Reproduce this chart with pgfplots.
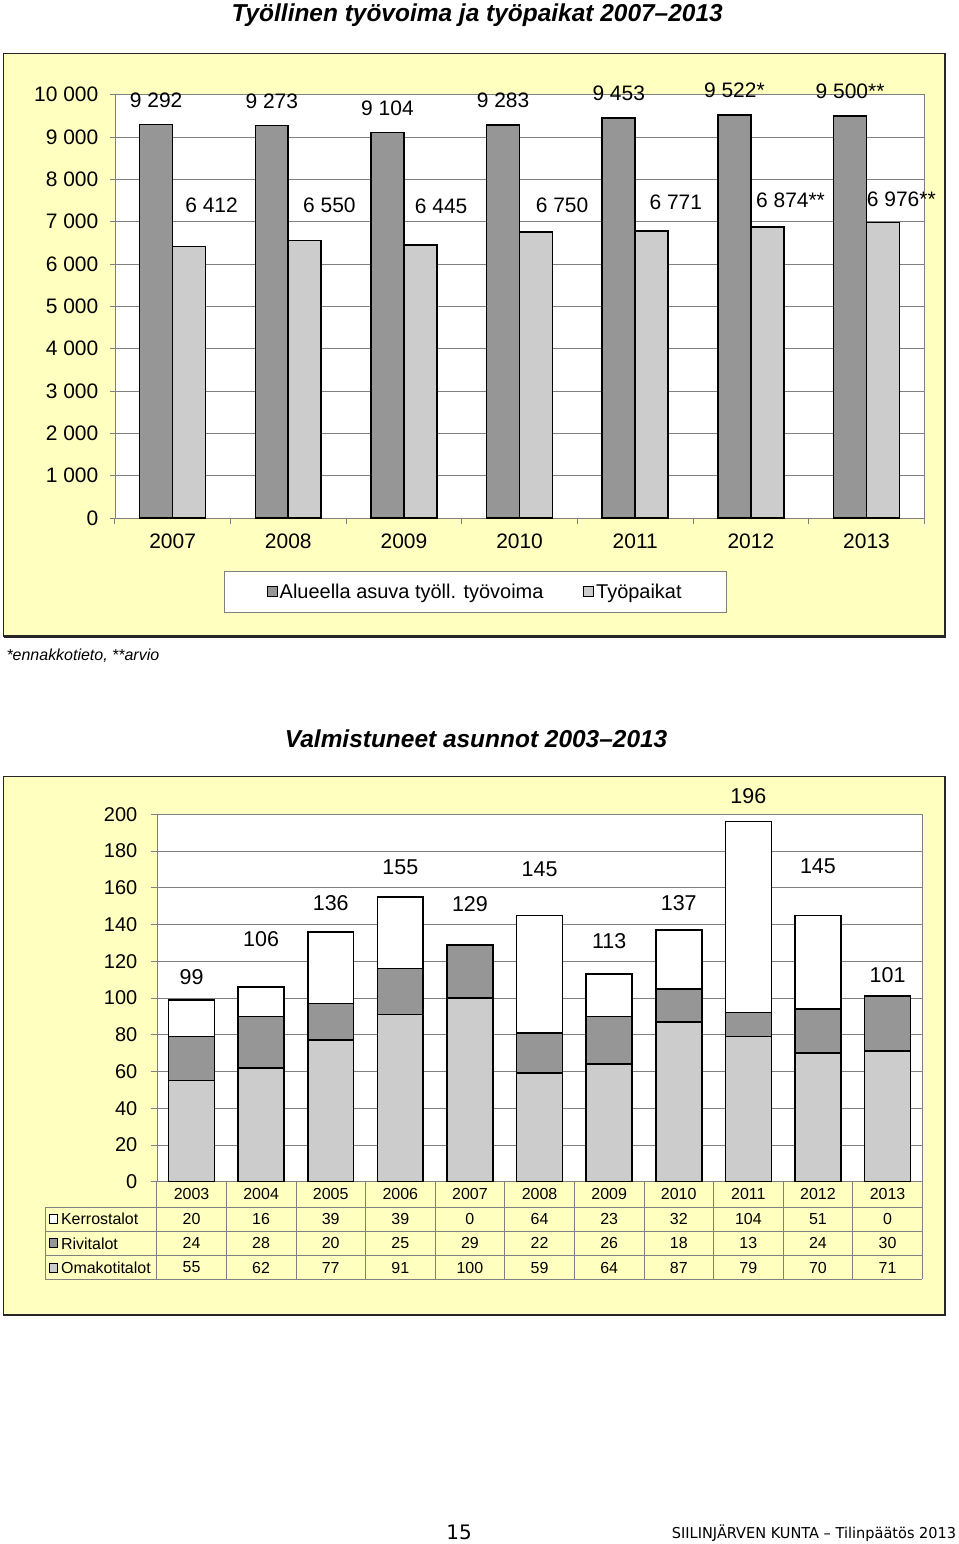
\documentclass[border=0pt]{standalone}
\usepackage{pgfplots}
\pgfplotsset{compat=1.18}
\usepackage{graphicx}
\usepackage{fontspec}
\setmainfont{Liberation Sans}
\newfontfamily\footfont{DejaVu Sans}

\definecolor{boxyellow}{HTML}{FFFFC0}
\definecolor{bardark}{HTML}{969696}
\definecolor{barlight}{HTML}{CCCCCC}
\definecolor{linegray}{HTML}{808080}

\newcommand{\fs}[1]{\fontsize{#1}{#1}\selectfont}

\pgfplotsset{
  sqlegend/.style={legend image code/.code={%
    \draw[##1, line width=0.8pt] (0pt,-5pt) rectangle (10pt,5pt);}},
  barline/.style={draw=black, line width=1.6pt},
}
\tikzset{tot/.style={font=\fs{21.5}, yshift=3pt}}

\begin{document}
\begin{tikzpicture}[x=1pt,y=1pt]
\fill[white] (0,0) rectangle (960,-1544);

% ---------- chart 1 ----------
\node[font=\fs{24.5}\bfseries\itshape] at (478,-12) {Työllinen työvoima ja työpaikat 2007–2013};
\draw[line width=1.6pt, draw=black!85, fill=boxyellow] (3.5,-51) rectangle (946.5,-634.5);
\draw[line width=1pt, draw=black!85] (947.5,-52) -- (947.5,-635.5) -- (4.5,-635.5);

\begin{axis}[
  at={(115pt,-516pt)}, anchor=south west,
  scale only axis, width=811pt, height=424pt,
  xmin=-0.5, xmax=6.5, ymin=0, ymax=10000,
  ybar=0pt, bar width=33pt,
  axis background/.style={fill=white},
  axis line style={linegray},
  ymajorgrids, grid style={linegray, line width=0.6pt},
  scaled y ticks=false,
  ytick={0,1000,...,10000},
  yticklabels={0,1~000,2~000,3~000,4~000,5~000,6~000,7~000,8~000,9~000,10~000},
  xtick={0,...,6}, xticklabels={2007,2008,2009,2010,2011,2012,2013},
  minor xtick={-0.5,0.5,...,6.5},
  major x tick style={draw=none},
  major tick length=5pt, minor tick length=6pt,
  tick align=outside, xtick pos=bottom, ytick pos=left,
  tick style={linegray, line width=0.6pt},
  tick label style={font=\fs{21}},
  yticklabel style={xshift=-8pt},
  xticklabel style={yshift=-8pt},
  /pgf/number format/assume math mode=true,
  legend columns=2,
  legend style={at={(axis description cs:0.4453,-0.1745)}, anchor=center,
    draw=linegray, fill=white, font=\fs{20}, inner xsep=43pt, inner ysep=11pt,
    /tikz/every even column/.append style={column sep=38pt}},
  clip=false,
]
\addplot[fill=bardark, barline, sqlegend,
  nodes near coords, point meta=explicit symbolic,
  every node near coord/.append style={font=\fs{21}, text=black, yshift=13pt}]
  coordinates {(0,9292)[9 292] (1,9273)[9 273] (2,9104)[9 104] (3,9283)[9 283]
               (4,9453)[9 453] (5,9522)[9 522*] (6,9500)[9 500**]};
\addplot[fill=barlight, barline, sqlegend]
  coordinates {(0,6412) (1,6550) (2,6445) (3,6750) (4,6771) (5,6874) (6,6976)};
\legend{Alueella asuva työll. työvoima, Työpaikat}
\node[font=\fs{21}] at (axis cs:0.337,7380) {6 412};
\node[font=\fs{21}] at (axis cs:1.356,7380) {6 550};
\node[font=\fs{21}] at (axis cs:2.322,7357) {6 445};
\node[font=\fs{21}] at (axis cs:3.367,7380) {6 750};
\node[font=\fs{21}] at (axis cs:4.351,7451) {6 771};
\node[font=\fs{21}] at (axis cs:5.343,7498) {6 874**};
\node[font=\fs{21}] at (axis cs:6.301,7522) {6 976**};
\end{axis}

\node[anchor=west, font=\fs{16}\itshape] at (3,-654) {*ennakkotieto, **arvio};

% ---------- chart 2 ----------
\node[font=\fs{24.5}\bfseries\itshape] at (477,-737) {Valmistuneet asunnot 2003–2013};
\draw[line width=1.6pt, draw=black!85, fill=boxyellow] (3.5,-775) rectangle (946.5,-1314.5);
\draw[line width=1pt, draw=black!85] (947.5,-776) -- (947.5,-1315.5) -- (4.5,-1315.5);

\begin{axis}[
  at={(157pt,-1181pt)}, anchor=south west,
  scale only axis, width=767pt, height=368pt,
  xmin=-0.5, xmax=10.5, ymin=0, ymax=200,
  ybar stacked, bar width=46pt,
  axis background/.style={fill=white},
  axis line style={linegray},
  ymajorgrids, grid style={linegray, line width=0.6pt},
  ytick={0,20,...,200}, xtick=\empty,
  major tick length=6pt, tick align=outside, ytick pos=left,
  tick style={linegray, line width=0.6pt},
  tick label style={font=\fs{20}},
  yticklabel style={xshift=-10pt},
  /pgf/number format/assume math mode=true,
  clip=false,
]
% Omakotitalot
\addplot[fill=barlight, barline] coordinates {(0,55) (1,62) (2,77) (3,91) (4,100) (5,59) (6,64) (7,87) (8,79) (9,70) (10,71)};
% Rivitalot
\addplot[fill=bardark, barline] coordinates {(0,24) (1,28) (2,20) (3,25) (4,29) (5,22) (6,26) (7,18) (8,13) (9,24) (10,30)};
% Kerrostalot
\addplot[fill=white, barline] coordinates {(0,20) (1,16) (2,39) (3,39) (4,0) (5,64) (6,23) (7,32) (8,104) (9,51) (10,0)};
\node[tot] at (axis cs:0,110.0) {99};
\node[tot] at (axis cs:1,130.6) {106};
\node[tot] at (axis cs:2,150.1) {136};
\node[tot] at (axis cs:3,169.6) {155};
\node[tot] at (axis cs:4,149.6) {129};
\node[tot] at (axis cs:5,168.6) {145};
\node[tot] at (axis cs:6,129.5) {113};
\node[tot] at (axis cs:7,150.1) {137};
\node[tot] at (axis cs:8,208.1) {196};
\node[tot] at (axis cs:9,170.2) {145};
\node[tot] at (axis cs:10,110.6) {101};
\end{axis}

% data table
\def\cw{69.727}
\begin{scope}[draw=linegray, line width=0.6pt]
\foreach \yy in {-1206.7,-1230.7,-1255,-1279} \draw (45,\yy) -- (924,\yy);
\draw (45,-1206.7) -- (45,-1279);
\foreach \k in {0,...,11} \draw ({157+\k*\cw},-1181) -- ({157+\k*\cw},-1279);
\end{scope}
\begin{scope}[every node/.style={font=\fs{16}}]
\foreach \v [count=\i from 0] in {2003,2004,2005,2006,2007,2008,2009,2010,2011,2012,2013}
  \node at ({157+(\i+0.5)*\cw},-1193.5) {\v};
\foreach \v [count=\i from 0] in {20,16,39,39,0,64,23,32,104,51,0}
  \node at ({157+(\i+0.5)*\cw},-1218.5) {\v};
\foreach \v [count=\i from 0] in {24,28,20,25,29,22,26,18,13,24,30}
  \node at ({157+(\i+0.5)*\cw},-1242.8) {\v};
\foreach \v [count=\i from 0] in {55,62,77,91,100,59,64,87,79,70,71}
  \node at ({157+(\i+0.5)*\cw},-1267) {\v};
\draw[fill=white, line width=0.8pt] (49,-1213.5) rectangle (58,-1222.5);
\node[anchor=west, inner sep=0pt] at (61,-1218.5) {Kerrostalot};
\draw[fill=bardark, line width=0.8pt] (49,-1238) rectangle (58,-1247);
\node[anchor=west, inner sep=0pt] at (61,-1242.8) {Rivitalot};
\draw[fill=barlight, line width=0.8pt] (49,-1262.5) rectangle (58,-1271.5);
\node[anchor=west, inner sep=0pt] at (61,-1267) {Omakotitalot};
\end{scope}

% footer
\node[font=\footfont\fs{20}] at (460,-1532) {15};
\node[anchor=east, inner sep=0pt, font=\footfont\fs{15}] at (958,-1533) {\scalebox{0.97}[1]{SIILINJÄRVEN KUNTA – Tilinpäätös 2013}};
\end{tikzpicture}
\end{document}
